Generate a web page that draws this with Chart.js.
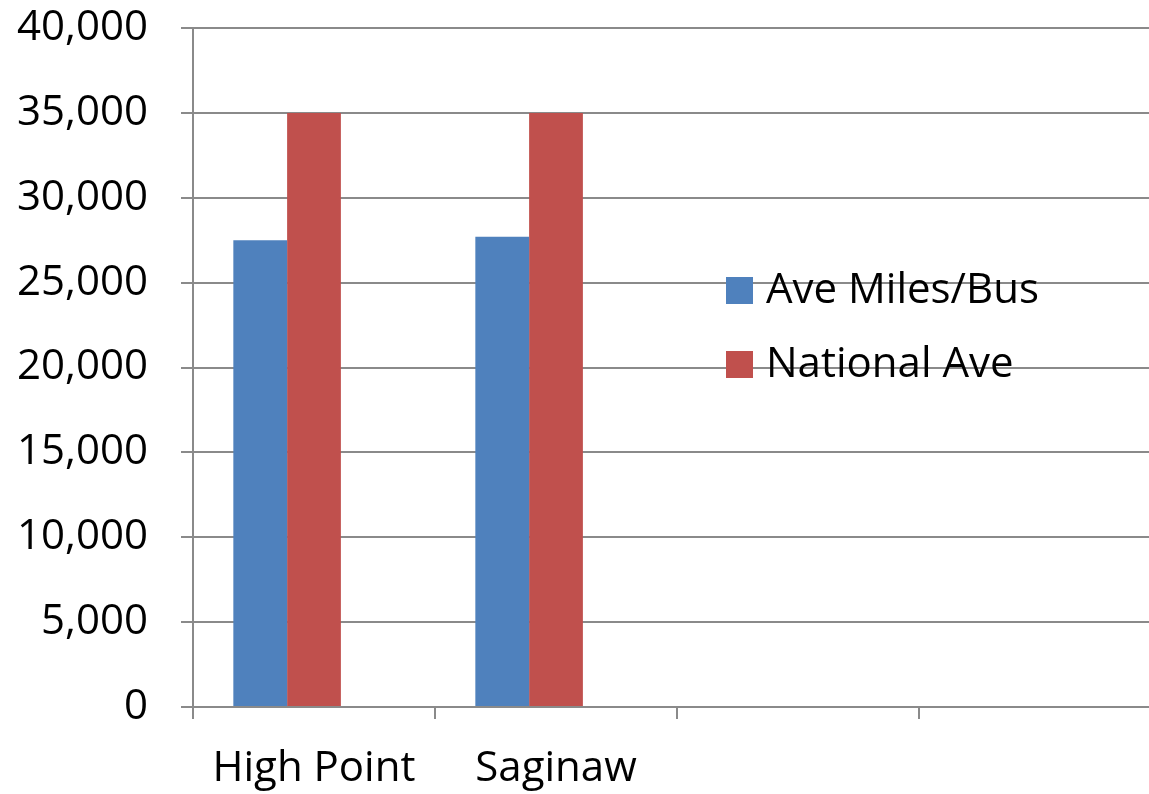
<!DOCTYPE html>
<html>
<head>
<meta charset="utf-8">
<script src="https://cdn.jsdelivr.net/npm/chart.js@4"></script>
<style>
  html, body { margin: 0; padding: 0; background: #fff; overflow: hidden; }
  #wrap { width: 1161px; height: 794px; }
</style>
</head>
<body>
<div id="wrap"><canvas id="c" width="1161" height="794"></canvas></div>
<script>
// Categories along the bottom axis (last two slots are empty)
const categories = ['High Point', 'Saginaw', '', ''];
// Average miles per bus for each city
const aveMilesPerBus = [27500, 27700, null, null];
// National average reference value
const nationalAve = [35000, 35000, null, null];
// Third series in the workbook has no values
const emptySeries = [null, null, null, null];
// Value axis bounds
const yMin = 0, yMax = 40000, yStep = 5000;

const FONT = '"Open Sans", "Liberation Sans", sans-serif';
const GRID = '#8a8a8a';

// Legend drawn inside the plot area, over the gridlines
const insideLegend = {
  id: 'insideLegend',
  afterDraw(chart) {
    const ctx = chart.ctx;
    ctx.save();
    ctx.font = '42px ' + FONT;
    ctx.textBaseline = 'middle';
    ctx.textAlign = 'left';
    let y = 290;
    chart.data.datasets.forEach(ds => {
      if (!ds.label) return;
      ctx.fillStyle = ds.backgroundColor;
      ctx.fillRect(726, y - 13, 27, 27);
      ctx.fillStyle = '#000';
      ctx.fillText(ds.label, 766, y + 1);
      y += 74;
    });
    ctx.restore();
  }
};

new Chart(document.getElementById('c'), {
  type: 'bar',
  data: {
    labels: categories,
    datasets: [
      { label: 'Ave Miles/Bus', data: aveMilesPerBus, backgroundColor: '#4F81BD' },
      { label: 'National Ave', data: nationalAve, backgroundColor: '#C0504D' },
      { label: '', data: emptySeries, backgroundColor: '#9BBB59' }
    ]
  },
  options: {
    responsive: false,
    animation: false,
    devicePixelRatio: 1,
    categoryPercentage: 3 / 4.5,
    barPercentage: 1,
    layout: { padding: { top: 28, right: 0, left: 0, bottom: 0 } },
    plugins: {
      legend: { display: false },
      tooltip: { enabled: false }
    },
    scales: {
      x: {
        offset: true,
        grid: { display: true, drawOnChartArea: false, drawTicks: true, tickLength: 12, color: GRID, lineWidth: 2, offset: true },
        border: { display: true, color: GRID, width: 2 },
        ticks: { font: { family: FONT, size: 42 }, color: '#000', padding: 25, maxRotation: 0, autoSkip: false },
        afterFit(scale) { scale.height = 87; scale.paddingLeft = 0; scale.paddingRight = 0; }
      },
      y: {
        min: yMin, max: yMax,
        grid: { color: GRID, lineWidth: 2, tickLength: 12 },
        border: { display: true, color: GRID, width: 2 },
        ticks: { stepSize: yStep, font: { family: FONT, size: 42 }, color: '#000', padding: 33 },
        afterFit(scale) { scale.width = 193; scale.paddingTop = 0; scale.paddingBottom = 0; }
      }
    }
  },
  plugins: [insideLegend]
});
</script>
</body>
</html>
